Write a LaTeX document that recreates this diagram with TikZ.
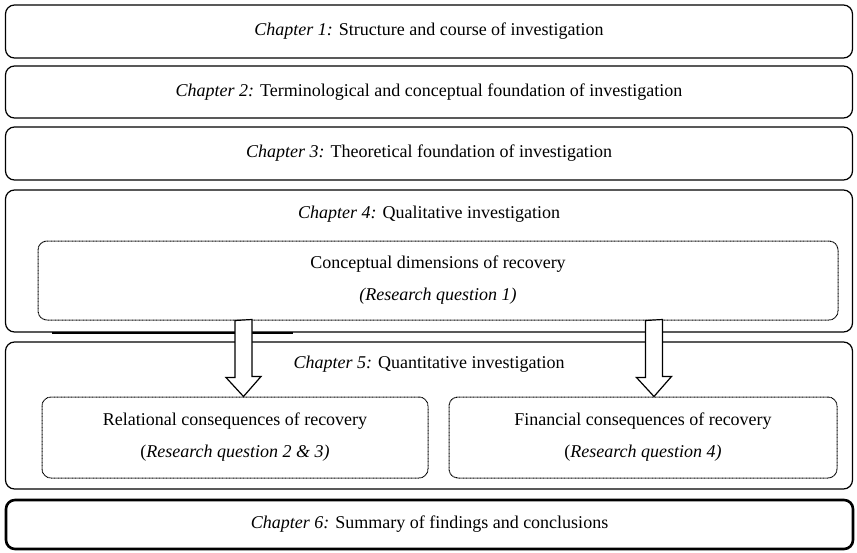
\documentclass[tikz,border=0pt]{standalone}
\usepackage{fontspec}
\setmainfont{Liberation Serif}
\usetikzlibrary{positioning, calc}

\begin{document}
\begin{tikzpicture}[x=1pt, y=-1pt,
            chapbox/.style={rectangle, draw, line width=1.2pt, rounded corners=9pt, minimum width=847pt, inner sep=0pt},
            subbox/.style={rectangle, draw, dash pattern=on 0.9pt off 0.5pt, line width=1pt, rounded corners=9pt, inner sep=0pt, align=center, font=\fontsize{18}{32}\selectfont},
            title/.style={inner sep=0pt, font=\fontsize{18}{22}\selectfont},
            hollow/.style={draw, fill=white, line width=1.2pt, line join=miter}]

        \useasboundingbox (0,0) rectangle (857,552);

        \node[chapbox, minimum height=53pt, title] (ch1) at (429,31.5) {{\itshape Chapter 1:} Structure and course of investigation};
        \node[chapbox, minimum height=52pt, title] (ch2) at (429,92) {{\itshape Chapter 2:} Terminological and conceptual foundation of investigation};
        \node[chapbox, minimum height=53pt, title] (ch3) at (429,153.5) {{\itshape Chapter 3:} Theoretical foundation of investigation};

        \node[chapbox, minimum height=142pt] (ch4) at (429,261) {};
        \node[title] (ch4title) at ([yshift=-25pt]ch4.north) {{\itshape Chapter 4:} Qualitative investigation};
        \node[subbox, minimum width=800pt, minimum height=79pt] (qual) at (438,280.5) {Conceptual dimensions of recovery\\\textit{(Research question 1)}};

        \node[chapbox, minimum height=147pt] (ch5) at (429,415.5) {};
        \node[title] (ch5title) at ([yshift=-23pt]ch5.north) {{\itshape Chapter 5:} Quantitative investigation};
        \node[subbox, minimum width=386pt, minimum height=81pt] (relat) at (235,437.5) {Relational consequences of recovery\\(\textit{Research question 2 \& 3)}};
        \node[subbox, minimum width=388pt, minimum height=81pt] (finan) at (643,437.5) {Financial consequences of recovery\\(\textit{Research question 4)}};

        \node[chapbox, line width=2.6pt, minimum height=49pt, title] (ch6) at (429.5,524.5) {{\itshape Chapter 6:} Summary of findings and conclusions};

        \draw[line width=2pt] ([xshift=47pt]ch4.south west) -- ([xshift=288pt]ch4.south west);

        \coordinate (x1) at (243.5,0);
        \coordinate (x2) at (654,0);
        \draw[hollow] (qual.south -| x1) ++(-8.5,0) -- ++(0,57) -- ++(-9,0) -- (relat.north -| x1) -- ++(17.5,-20) -- ++(-9,0) -- ++(0,-57) -- cycle;
        \draw[hollow] (qual.south -| x2) ++(-8.5,0) -- ++(0,57) -- ++(-9,0) -- (finan.north -| x2) -- ++(17.5,-20) -- ++(-9,0) -- ++(0,-57) -- cycle;
    \end{tikzpicture}
\end{document}
